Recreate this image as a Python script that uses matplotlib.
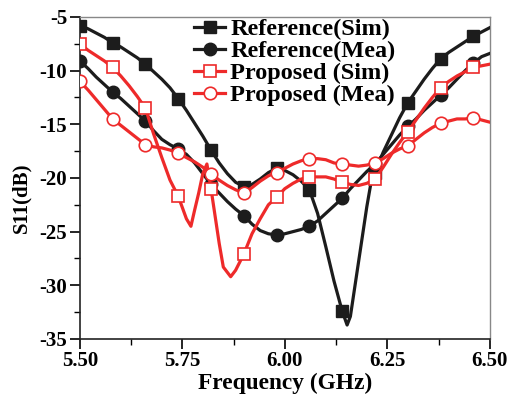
import numpy as np
import matplotlib
matplotlib.use("Agg")
import matplotlib.pyplot as plt
from matplotlib.ticker import MultipleLocator, FormatStrFormatter

plt.rcParams['font.family'] = ['Liberation Serif', 'DejaVu Serif']
plt.rcParams['font.weight'] = 'bold'
plt.rcParams['axes.unicode_minus'] = False

# regular frequency grid (GHz) used by the measured curves
freq = [round(5.50 + 0.02 * i, 2) for i in range(51)]

# Reference antenna, simulated
ref_sim_f = [5.50, 5.52, 5.54, 5.56, 5.58, 5.60, 5.62, 5.64, 5.66, 5.68, 5.70, 5.72,
             5.74, 5.76, 5.78, 5.80, 5.82, 5.84, 5.86, 5.88, 5.90, 5.92, 5.94, 5.96,
             5.98, 6.00, 6.02, 6.04, 6.06, 6.08, 6.10, 6.12, 6.14, 6.152, 6.16, 6.18,
             6.20, 6.21, 6.22, 6.24, 6.26, 6.28, 6.30, 6.32, 6.34, 6.36, 6.38, 6.40,
             6.42, 6.44, 6.46, 6.48, 6.50]
ref_sim = [-5.8, -6.1, -6.5, -6.9, -7.4, -7.8, -8.3, -8.8, -9.4, -10.1, -10.8, -11.6,
           -12.6, -13.7, -14.9, -16.1, -17.4, -18.6, -19.6, -20.4, -20.8, -20.6, -20.1, -19.5,
           -19.1, -19.3, -19.7, -20.3, -21.1, -23.3, -26.4, -29.6, -32.4, -33.7, -32.9, -27.8,
           -22.7, -20.5, -19.5, -17.6, -16.0, -14.4, -13.0, -11.9, -10.8, -9.8, -8.9, -8.3,
           -7.8, -7.3, -6.8, -6.4, -6.0]

# Reference antenna, measured
ref_mea = [-9.1, -9.8, -10.6, -11.3, -12.0, -12.6, -13.3, -14.0, -14.7, -15.6, -16.4,
           -16.9, -17.3, -17.8, -18.6, -19.6, -20.6, -21.4, -22.2, -22.9, -23.5, -24.3,
           -24.9, -25.2, -25.3, -25.2, -25.0, -24.8, -24.5, -24.0, -23.3, -22.6, -21.9,
           -21.0, -20.2, -19.4, -18.7, -17.8, -16.9, -16.0, -15.2, -14.5, -13.7, -13.0,
           -12.3, -11.6, -10.8, -10.0, -9.3, -8.7, -8.4]

# Proposed antenna, simulated
prop_sim_f = [5.50, 5.52, 5.54, 5.56, 5.58, 5.60, 5.62, 5.64, 5.66, 5.68, 5.70, 5.72,
              5.74, 5.76, 5.771, 5.78, 5.79, 5.80, 5.81, 5.82, 5.84, 5.85, 5.868, 5.88,
              5.90, 5.92, 5.94, 5.96, 5.98, 6.00, 6.02, 6.04, 6.06, 6.08, 6.10, 6.12,
              6.14, 6.16, 6.18, 6.20, 6.22, 6.24, 6.26, 6.28, 6.30, 6.32, 6.34, 6.36,
              6.38, 6.40, 6.42, 6.44, 6.46, 6.48, 6.50]
prop_sim = [-7.5, -8.1, -8.6, -9.1, -9.7, -10.5, -11.4, -12.4, -13.5, -15.9, -18.1, -20.2,
            -21.7, -23.8, -24.5, -23.0, -21.4, -19.6, -18.7, -21.0, -26.1, -28.3, -29.2, -28.6,
            -27.1, -25.2, -23.8, -22.5, -21.8, -21.0, -20.5, -20.1, -19.9, -19.9, -19.9, -20.1,
            -20.4, -20.6, -20.7, -20.5, -20.1, -19.0, -17.8, -16.7, -15.7, -14.6, -13.5, -12.5,
            -11.6, -11.0, -10.5, -10.1, -9.7, -9.55, -9.4]

# Proposed antenna, measured
prop_mea = [-11.0, -11.8, -12.7, -13.6, -14.5, -15.1, -15.7, -16.3, -16.9, -17.1, -17.2,
            -17.4, -17.7, -18.1, -18.5, -19.0, -19.6, -20.2, -20.7, -21.1, -21.4, -20.9,
            -20.3, -19.8, -19.5, -19.1, -18.7, -18.4, -18.2, -18.2, -18.3, -18.6, -18.7,
            -18.8, -18.9, -18.8, -18.6, -18.2, -17.7, -17.3, -17.0, -16.4, -15.8, -15.3,
            -14.9, -14.7, -14.5, -14.5, -14.4, -14.6, -14.8]

labels = ["Reference(Sim)", "Reference(Mea)", "Proposed (Sim)", "Proposed (Mea)"]

# markers every 0.08 GHz
mark_f = np.arange(5.50, 6.47, 0.08)


def marks(f):
    f = np.asarray(f)
    return [i for i, v in enumerate(f) if np.any(np.isclose(v, mark_f, atol=1e-4))]


black = '#1c1c1c'
red = '#ee2a2a'

fig = plt.figure(figsize=(5.15, 4.04), dpi=100)
ax = fig.add_axes([0.155, 0.161, 0.796, 0.797])

ax.plot(ref_sim_f, ref_sim, color=black, lw=2.3, marker='s', ms=8.5,
        markevery=marks(ref_sim_f), mfc=black, mec=black, label=labels[0], zorder=3)
ax.plot(freq, ref_mea, color=black, lw=2.3, marker='o', ms=9,
        markevery=marks(freq), mfc=black, mec=black, label=labels[1], zorder=3)
ax.plot(prop_sim_f, prop_sim, color=red, lw=2.3, marker='s', ms=8.5,
        markevery=marks(prop_sim_f), mfc='white', mec=red, mew=1.2, label=labels[2], zorder=4)
ax.plot(freq, prop_mea, color=red, lw=2.3, marker='o', ms=9,
        markevery=marks(freq), mfc='white', mec=red, mew=1.2, label=labels[3], zorder=4)

ax.set_xlim(5.5, 6.5)
ax.set_ylim(-35, -5)
ax.xaxis.set_major_locator(MultipleLocator(0.25))
ax.xaxis.set_minor_locator(MultipleLocator(0.125))
ax.xaxis.set_major_formatter(FormatStrFormatter('%.2f'))
ax.yaxis.set_major_locator(MultipleLocator(5))
ax.yaxis.set_minor_locator(MultipleLocator(2.5))
ax.tick_params(which='major', direction='out', length=7, width=1.2, labelsize=15, pad=2)
ax.tick_params(which='minor', direction='out', length=4, width=1.0)
for lab in ax.get_xticklabels() + ax.get_yticklabels():
    lab.set_fontweight('bold')

for s in ['left', 'bottom']:
    ax.spines[s].set_linewidth(1.2)
    ax.spines[s].set_color('#222222')
for s in ['top', 'right']:
    ax.spines[s].set_linewidth(1.0)
    ax.spines[s].set_color('#888888')

ax.set_xlabel("Frequency (GHz)", fontsize=16.8, fontweight='bold', labelpad=1)
ax.set_ylabel("S11(dB)", fontsize=15, fontweight='bold')
ax.yaxis.set_label_coords(-0.118, 0.44)

ax.legend(loc='upper left', bbox_to_anchor=(0.272, 1.004), frameon=False,
          prop={'size': 17.5, 'weight': 'bold'}, handlelength=1.3, handletextpad=0.2,
          labelspacing=0.0, borderpad=0.1, borderaxespad=0.0)

fig.savefig("out.png", dpi=100)
